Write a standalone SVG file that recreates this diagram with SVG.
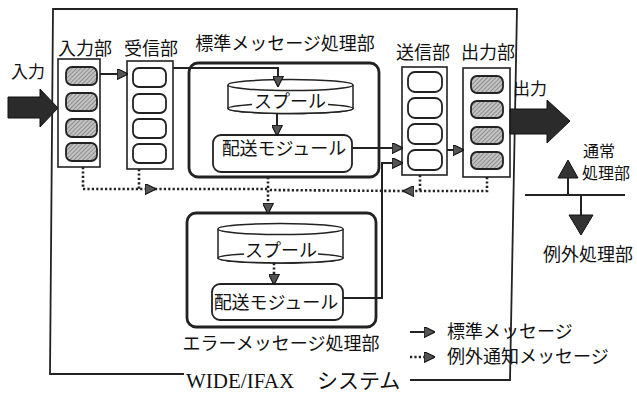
<svg xmlns="http://www.w3.org/2000/svg" width="637" height="394" viewBox="0 0 637 394">
<style>
.jp{font-family:"Noto Sans CJK JP","Noto Sans",sans-serif;font-size:18px;fill:#111}
.unit{fill:#fff;stroke:#222;stroke-width:1.6}
.cell{fill:#fff;stroke:#222;stroke-width:1.8}
.hcell{fill:url(#hatch);stroke:#222;stroke-width:1.8}
.proc{fill:none;stroke:#222;stroke-width:2.8}
.mod{fill:#fff;stroke:#222;stroke-width:1.8}
.cyl{fill:#fff;stroke:#222;stroke-width:1.5}
.solid{fill:none;stroke:#222;stroke-width:2}
.dot{fill:none;stroke:#222;stroke-width:2.6;stroke-dasharray:2.2 2.2}
.frame{fill:none;stroke:#222;stroke-width:1.8}
.big{fill:#2b2b2b;stroke:#111;stroke-width:1}
</style>
<defs>
<pattern id="hatch" width="3" height="3" patternUnits="userSpaceOnUse" patternTransform="rotate(45)">
<rect width="3" height="3" fill="#c4c4c4"/>
<line x1="0" y1="0" x2="0" y2="3" stroke="#555" stroke-width="1"/>
</pattern>
<marker id="ah" viewBox="0 0 10 10" refX="9" refY="5" markerWidth="11" markerHeight="11" markerUnits="userSpaceOnUse" orient="auto">
<path d="M0,0 L10,5 L0,10 z" fill="#555" stroke="#111" stroke-width="1"/>
</marker>
</defs>

<g id="system-frame">
<path class="frame" d="M184,374 L50,374 L53,9 L517,9 L510,380 L410,380"/>
<text x="186" y="388" style="font-family:'Liberation Serif',serif;font-size:21px;fill:#111">WIDE/IFAX</text>
<text x="317" y="388" class="jp" style="font-size:21px">システム</text>
</g>

<g id="input-arrow">
<polygon class="big" points="8,97 40,97 40,89 58,108 40,127 40,118 8,118"/>
<text x="28" y="78" class="jp" text-anchor="middle" style="font-size:17px">入力</text>
</g>

<g id="input-unit">
<text x="85" y="55" class="jp" text-anchor="middle">入力部</text>
<rect class="unit" x="58" y="59" width="42" height="108"/>
<rect class="hcell" x="66" y="67" width="31" height="18" rx="6"/>
<rect class="hcell" x="66" y="93" width="31" height="18" rx="6"/>
<rect class="hcell" x="66" y="119" width="31" height="18" rx="6"/>
<rect class="hcell" x="66" y="143" width="31" height="18" rx="6"/>
</g>

<g id="receive-unit">
<text x="151" y="55" class="jp" text-anchor="middle">受信部</text>
<rect class="unit" x="127" y="61" width="46" height="108"/>
<rect class="cell" x="133" y="68" width="33" height="19" rx="6"/>
<rect class="cell" x="133" y="94" width="33" height="19" rx="6"/>
<rect class="cell" x="133" y="119" width="33" height="19" rx="6"/>
<rect class="cell" x="133" y="144" width="33" height="19" rx="6"/>
</g>

<g id="standard-processing">
<text x="285" y="50" class="jp" text-anchor="middle">標準メッセージ処理部</text>
<rect class="proc" x="189" y="63" width="190" height="114" rx="9"/>
</g>

<g id="standard-spool">
<path class="cyl" d="M228,85 L228,108.5 A62.5,5 0 0 0 353,108.5 L353,85"/>
<ellipse class="cyl" cx="290.5" cy="108.5" rx="62.5" ry="5" fill="none"/>
<ellipse class="cyl" cx="290.5" cy="85" rx="62.5" ry="5.5"/>
<rect x="252" y="93" width="76" height="17" fill="#fff"/>
<text x="290" y="108" class="jp" text-anchor="middle">スプール</text>
</g>

<g id="standard-delivery">
<rect class="mod" x="213" y="135" width="139" height="37" rx="8"/>
<text x="284" y="155" class="jp" text-anchor="middle">配送モジュール</text>
</g>

<g id="send-unit">
<text x="423" y="59" class="jp" text-anchor="middle">送信部</text>
<rect class="unit" x="402" y="67" width="45" height="108"/>
<rect class="cell" x="408" y="72" width="34" height="20" rx="7"/>
<rect class="cell" x="408" y="98" width="34" height="20" rx="7"/>
<rect class="cell" x="408" y="124" width="34" height="20" rx="7"/>
<rect class="cell" x="408" y="150" width="34" height="20" rx="7"/>
</g>

<g id="output-unit">
<text x="488" y="59" class="jp" text-anchor="middle">出力部</text>
<rect class="unit" x="463" y="68" width="47" height="109"/>
<rect class="hcell" x="471" y="76" width="32" height="17" rx="6"/>
<rect class="hcell" x="471" y="101" width="32" height="17" rx="6"/>
<rect class="hcell" x="471" y="127" width="32" height="17" rx="6"/>
<rect class="hcell" x="471" y="152" width="32" height="17" rx="6"/>
</g>

<g id="output-arrow">
<polygon class="big" points="510,109 547,109 547,100 570,121 547,143 547,134 510,134"/>
<text x="530" y="95" class="jp" text-anchor="middle" style="font-size:17px">出力</text>
</g>

<g id="error-processing">
<rect class="proc" x="187" y="213" width="189" height="114" rx="9"/>
<text x="281" y="350" class="jp" text-anchor="middle">エラーメッセージ処理部</text>
</g>

<g id="error-spool">
<path class="cyl" d="M218,229 L218,258 A62.5,5 0 0 0 343,258 L343,229"/>
<ellipse class="cyl" cx="280.5" cy="258" rx="62.5" ry="5" fill="none"/>
<ellipse class="cyl" cx="280.5" cy="229" rx="62.5" ry="5.5"/>
<rect x="244" y="242" width="74" height="17" fill="#fff"/>
<text x="281" y="257" class="jp" text-anchor="middle">スプール</text>
</g>

<g id="error-delivery">
<rect class="mod" x="212" y="284" width="131" height="36" rx="8"/>
<text x="276" y="309" class="jp" text-anchor="middle">配送モジュール</text>
</g>

<g id="connectors">
<path class="solid" d="M100,74 L127,74" marker-end="url(#ah)"/>
<path class="solid" d="M173,68 L278,68 L278,86" marker-end="url(#ah)"/>
<path class="solid" d="M277,113.5 L277,135" marker-end="url(#ah)"/>
<path class="solid" d="M352,148 L402,148" marker-end="url(#ah)"/>
<path class="solid" d="M447,150 L463,150" marker-end="url(#ah)"/>
<path class="solid" d="M343,298 L382,298 L382,163 L402,163" marker-end="url(#ah)"/>
<path class="dot" d="M83,167 L83,189 L155,189" marker-end="url(#ah)"/>
<path class="dot" d="M155,189 L268,189"/>
<path class="dot" d="M139,169 L139,189"/>
<path class="dot" d="M268,177 L268,213" marker-end="url(#ah)"/>
<path class="dot" d="M487,177 L487,191 L404,191" marker-end="url(#ah)"/>
<path class="dot" d="M404,191 L268,190"/>
<path class="dot" d="M420,175 L420,191"/>
<path class="dot" d="M274,263 L274,284" marker-end="url(#ah)"/>
</g>

<g id="legend-layer">
<polygon points="568,160 578,178 558,178" fill="#333" stroke="#111" stroke-width="1"/>
<line x1="568" y1="178" x2="568" y2="195" stroke="#222" stroke-width="2"/>
<line x1="525" y1="195" x2="625" y2="195" stroke="#222" stroke-width="2"/>
<line x1="581" y1="195" x2="581" y2="215" stroke="#222" stroke-width="2"/>
<polygon points="569,215 593,215 581,235" fill="#333" stroke="#111" stroke-width="1"/>
<text x="583" y="157" class="jp" style="font-size:16px">通常</text>
<text x="582" y="179" class="jp" style="font-size:16px">処理部</text>
<text x="543" y="261" class="jp">例外処理部</text>
</g>

<g id="legend">
<path class="solid" d="M410,332 L434,332" marker-end="url(#ah)"/>
<path class="dot" d="M410,357 L434,357" marker-end="url(#ah)"/>
<text x="447" y="338" class="jp">標準メッセージ</text>
<text x="447" y="363" class="jp">例外通知メッセージ</text>
</g>
</svg>
